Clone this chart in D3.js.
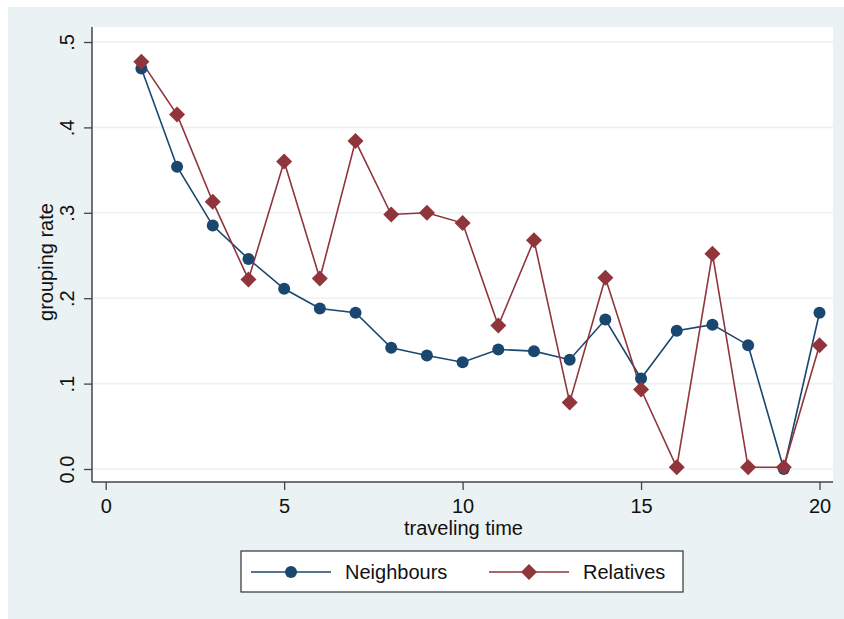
<!DOCTYPE html>
<html><head><meta charset="utf-8">
<script src="https://cdnjs.cloudflare.com/ajax/libs/d3/7.8.5/d3.min.js"></script>
<style>html,body{margin:0;padding:0;background:#fff;}svg{display:block;font-family:"Liberation Sans",Arial,Helvetica,sans-serif;}</style>
</head><body><svg id="c" width="844" height="619"></svg>
<script>
const times = [1,2,3,4,5,6,7,8,9,10,11,12,13,14,15,16,17,18,19,20];
const neighbours = [0.469,0.354,0.285,0.246,0.211,0.188,0.183,0.142,0.133,0.125,0.140,0.138,0.128,0.175,0.106,0.162,0.169,0.145,0.000,0.183];
const relatives  = [0.477,0.415,0.313,0.222,0.360,0.223,0.384,0.298,0.300,0.288,0.168,0.268,0.078,0.224,0.093,0.002,0.252,0.002,0.002,0.145];
const xTicks = [0,5,10,15,20];
const yTicks = [0,0.1,0.2,0.3,0.4,0.5];
const yTickLabels = ["0.0",".1",".2",".3",".4",".5"];
const seriesNames = ["Neighbours","Relatives"];
const colors = ["#1a476f","#90353b"];

const svg = d3.select("#c");
const W=844,H=619;
const bg = {x:8,y:7};
const plot = {l:92,r:833,t:27,b:482};
svg.append("rect").attr("x",bg.x).attr("y",bg.y).attr("width",W-bg.x).attr("height",H-bg.y).attr("fill","#eaf2f3");
svg.append("rect").attr("x",plot.l).attr("y",plot.t).attr("width",plot.r-plot.l).attr("height",plot.b-plot.t).attr("fill","#fff");

const x = d3.scaleLinear().domain([0,20]).range([105.7,819.5]);
const y = d3.scaleLinear().domain([0,0.5]).range([469,42]);

// gridlines
svg.append("g").selectAll("line").data(yTicks).join("line")
  .attr("x1",plot.l).attr("x2",plot.r).attr("y1",d=>y(d)).attr("y2",d=>y(d))
  .attr("stroke","#eaf2f3").attr("stroke-width",1.6);

// axes
const yAxis = d3.axisLeft(y).tickValues(yTicks).tickFormat((d,i)=>yTickLabels[i]).tickSize(8).tickPadding(0);
const gy = svg.append("g").attr("transform",`translate(${plot.l},0)`).call(yAxis);
gy.select(".domain").attr("d",`M0,${plot.t}V${plot.b}`).attr("stroke","#444").attr("stroke-width",1.5);
gy.selectAll(".tick line").attr("stroke","#444").attr("stroke-width",1.3);
gy.selectAll(".tick text").attr("transform","rotate(-90)").attr("x",0).attr("y",-18)
  .attr("dy",0).attr("text-anchor","middle").attr("font-size",20).attr("fill","#111");

const xAxis = d3.axisBottom(x).tickValues(xTicks).tickSize(8).tickPadding(5);
const gx = svg.append("g").attr("transform",`translate(0,${plot.b})`).call(xAxis);
gx.select(".domain").attr("d",`M${plot.l},0H${plot.r}`).attr("stroke","#444").attr("stroke-width",1.5);
gx.selectAll(".tick line").attr("stroke","#444").attr("stroke-width",1.3);
gx.selectAll(".tick text").attr("font-size",20).attr("fill","#111").attr("dy","0.92em");

svg.append("text").attr("x",(plot.l+plot.r)/2+1).attr("y",535).attr("text-anchor","middle")
  .attr("font-size",20).attr("fill","#111").text("traveling time");
svg.append("text").attr("transform",`translate(53,262) rotate(-90)`).attr("text-anchor","middle")
  .attr("font-size",20).attr("fill","#111").text("grouping rate");

const line = d3.line().x((d,i)=>x(times[i])).y(d=>y(d));
const diamond = (s)=>`M0,${-s}L${s},0L0,${s}L${-s},0Z`;

[neighbours,relatives].forEach((vals,k)=>{
  svg.append("path").attr("d",line(vals)).attr("fill","none").attr("stroke",colors[k]).attr("stroke-width",1.6);
});
// markers
svg.append("g").selectAll("circle").data(neighbours).join("circle")
  .attr("cx",(d,i)=>x(times[i])).attr("cy",d=>y(d)).attr("r",6).attr("fill",colors[0]);
svg.append("g").selectAll("path").data(relatives).join("path")
  .attr("transform",(d,i)=>`translate(${x(times[i])},${y(d)})`).attr("d",diamond(8)).attr("fill",colors[1]);

// legend
const lg = svg.append("g");
lg.append("rect").attr("x",241).attr("y",551).attr("width",442).attr("height",41)
  .attr("fill","#fff").attr("stroke","#333").attr("stroke-width",1.2);
const items=[{x1:251,x2:331,tx:345},{x1:489,x2:569,tx:583}];
items.forEach((it,k)=>{
  lg.append("line").attr("x1",it.x1).attr("x2",it.x2).attr("y1",572).attr("y2",572)
    .attr("stroke",colors[k]).attr("stroke-width",1.6);
  const cx=(it.x1+it.x2)/2;
  if(k===0) lg.append("circle").attr("cx",cx).attr("cy",572).attr("r",6).attr("fill",colors[k]);
  else lg.append("path").attr("transform",`translate(${cx},572)`).attr("d",diamond(8)).attr("fill",colors[k]);
  lg.append("text").attr("x",it.tx).attr("y",579).attr("font-size",20).attr("fill","#111").text(seriesNames[k]);
});
</script></body></html>
